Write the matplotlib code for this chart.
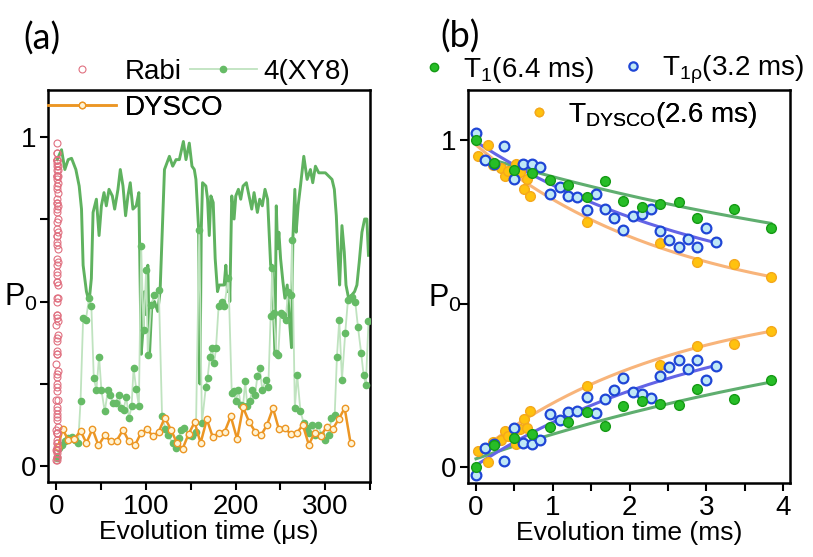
import numpy as np
import matplotlib
matplotlib.use('Agg')
import matplotlib.pyplot as plt
from matplotlib.lines import Line2D

plt.rcParams['font.family'] = ['Liberation Sans', 'DejaVu Sans']
plt.rcParams['mathtext.fontset'] = 'custom'
plt.rcParams['mathtext.rm'] = 'Liberation Sans'
plt.rcParams['mathtext.it'] = 'Liberation Sans:italic'

# ---------------- panel (a): coherence under different sequences ----------------
rabi_t = [0.00, 0.02, 0.03, 0.05, 0.07, 0.08, 0.10, 0.12, 0.13, 0.15,
          0.17, 0.18, 0.20, 0.22, 0.23, 0.25, 0.27, 0.28, 0.30, 0.32,
          0.33, 0.35, 0.37, 0.38, 0.40, 0.42, 0.43, 0.45, 0.47, 0.48,
          0.50, 0.52, 0.53, 0.55, 0.57, 0.58, 0.60, 0.62, 0.63, 0.65,
          0.67, 0.68, 0.70, 0.72, 0.73, 0.75, 0.77, 0.78, 0.80, 0.82,
          0.83, 0.85, 0.87, 0.88, 0.90, 0.92, 0.93, 0.95, 0.97, 0.98,
          1.00, 1.02, 1.03, 1.05, 1.07, 1.08, 1.10, 1.12, 1.13, 1.15,
          1.17, 1.18, 1.20, 1.22, 1.23, 1.25, 1.27, 1.28, 1.30, 1.32,
          1.33, 1.35, 1.37, 1.38, 1.40, 1.42, 1.43, 1.45, 1.47, 1.48]
rabi_p = [0.02, 0.05, 0.11, 0.20, 0.31, 0.43, 0.56, 0.68, 0.78, 0.87,
          0.93, 0.98, 0.95, 0.91, 0.84, 0.74, 0.63, 0.51, 0.39, 0.28,
          0.18, 0.10, 0.05, 0.02, 0.03, 0.07, 0.14, 0.23, 0.34, 0.46,
          0.59, 0.70, 0.80, 0.88, 0.93, 0.95, 0.93, 0.88, 0.80, 0.70,
          0.58, 0.46, 0.35, 0.24, 0.15, 0.08, 0.04, 0.03, 0.05, 0.10,
          0.17, 0.27, 0.38, 0.50, 0.61, 0.72, 0.81, 0.88, 0.92, 0.93,
          0.90, 0.85, 0.77, 0.67, 0.56, 0.45, 0.34, 0.25, 0.16, 0.10,
          0.06, 0.05, 0.07, 0.12, 0.20, 0.29, 0.40, 0.51, 0.62, 0.71,
          0.79, 0.86, 0.90, 0.91, 0.88, 0.83, 0.75, 0.66, 0.55, 0.44]

xy8_hi_t = [0.9, 5.7, 9.4, 13.1, 16.9, 21.7, 25.4, 28.0, 29.8, 31.7, 33.5, 36.5,
            39.0, 40.9, 44.6, 47.6, 50.2, 53.1, 55.7, 58.7, 62.4, 65.0, 68.7, 71.3,
            74.3, 77.2, 79.8, 82.4, 85.4, 89.1, 92.0, 94.6, 96.5, 98.3, 100.2, 102.0,
            103.9, 106.5, 109.4, 113.1, 115.7, 117.9, 120.6, 126.1, 129.8, 133.5, 137.2,
            141.7, 144.6, 148.3, 151.3, 153.9, 155.7, 158.7, 160.2, 161.7, 163.1, 166.8,
            168.7, 170.6, 172.4, 175.0, 177.2, 179.8, 181.7, 184.6, 187.2, 189.1, 190.9,
            192.8, 193.5, 195.7, 198.3, 200.2, 203.1, 205.7, 208.3, 212.0, 215.0, 218.0,
            220.6, 224.3, 226.9, 229.8, 232.8, 235.7, 239.1, 240.9, 243.9, 245.4, 246.9,
            248.3, 250.2, 252.8, 255.0, 257.6, 260.2, 262.4, 263.9, 266.1, 267.6, 269.8,
            272.4, 276.1, 279.8, 283.5, 286.1, 289.1, 292.8, 296.5, 300.2, 303.9, 307.6,
            310.2, 312.4, 314.3, 316.1, 318.7, 321.3, 323.2, 326.1, 329.8, 332.8, 335.4,
            338.0, 341.0, 344.0, 346.5, 348.3]
xy8_hi_p = [0.93, 0.96, 0.90, 0.93, 0.934, 0.90, 0.85, 0.78, 0.61, 0.57, 0.53, 0.50,
            0.57, 0.77, 0.81, 0.70, 0.79, 0.83, 0.79, 0.84, 0.82, 0.78, 0.84, 0.90,
            0.85, 0.76, 0.82, 0.86, 0.78, 0.79, 0.83, 0.34, 0.41, 0.53, 0.46, 0.61,
            0.34, 0.49, 0.50, 0.47, 0.53, 0.70, 0.90, 0.94, 0.91, 0.93, 0.93,
            0.985, 0.93, 0.98, 0.91, 0.90, 0.87, 0.72, 0.25, 0.72, 0.86, 0.85,
            0.81, 0.70, 0.82, 0.80, 0.63, 0.53, 0.55, 0.55, 0.55, 0.61, 0.53,
            0.57, 0.50, 0.82, 0.75, 0.82, 0.84, 0.81, 0.85, 0.86, 0.82, 0.78,
            0.83, 0.77, 0.81, 0.79, 0.84, 0.81, 0.61, 0.61, 0.34, 0.79, 0.66,
            0.71, 0.63, 0.56, 0.51, 0.55, 0.44, 0.36, 0.69, 0.84, 0.71, 0.79,
            0.85, 0.94, 0.87, 0.90, 0.86, 0.91, 0.89, 0.89, 0.89, 0.88, 0.87,
            0.84, 0.76, 0.64, 0.55, 0.73, 0.65, 0.55, 0.51, 0.52, 0.53, 0.55,
            0.62, 0.71, 0.75, 0.75, 0.64]

xy8_lo_t = [0.5, 3.1, 5.7, 9.4, 13.1, 16.9, 20.6, 24.3, 26.9, 29.8, 32.8, 36.5,
            39.0, 41.7, 44.6, 47.6, 50.2, 53.9, 57.6, 60.2, 63.1, 66.1, 69.4, 72.4,
            75.0, 77.9, 80.9, 83.9, 86.1, 89.1, 92.0, 94.6, 97.2, 100.2, 102.0, 105.7,
            109.4, 114.3, 117.9, 121.7, 124.3, 129.8, 133.5, 136.5, 139.1, 142.8, 147.6,
            151.3, 155.7, 159.4, 162.4, 166.8, 168.7, 171.3, 173.7, 176.1, 178.1, 181.0,
            184.6, 187.2, 192.0, 195.7, 198.0, 200.2, 203.1, 205.7, 208.3, 210.7, 213.1,
            215.7, 218.7, 221.7, 224.3, 226.9, 229.8, 233.5, 236.5, 239.1, 240.9, 242.6,
            245.4, 247.6, 250.2, 252.8, 255.7, 258.7, 261.3, 263.1, 266.1, 268.7, 272.4,
            276.1, 279.8, 282.4, 285.4, 289.1, 292.0, 295.7, 299.4, 303.9, 306.9, 310.6,
            313.1, 315.7, 318.7, 322.4, 325.4, 329.8, 333.5, 336.5, 340.2, 342.8, 345.4,
            348.3]
xy8_lo_p = [0.025, 0.056, 0.066, 0.076, 0.086, 0.089, 0.081, 0.071, 0.197, 0.449, 0.444, 0.510,
            0.485, 0.268, 0.232, 0.333, 0.232, 0.167, 0.232, 0.217, 0.192, 0.192, 0.217, 0.177,
            0.172, 0.212, 0.146, 0.182, 0.298, 0.234, 0.184, 0.667, 0.414, 0.596, 0.338, 0.490,
            0.520, 0.535, 0.152, 0.114, 0.096, 0.071, 0.056, 0.085, 0.111, 0.116, 0.096,
            0.091, 0.106, 0.717, 0.131, 0.242, 0.268, 0.333, 0.359, 0.313, 0.359, 0.485,
            0.500, 0.485, 0.571, 0.222, 0.228, 0.197, 0.232, 0.187, 0.182, 0.258, 0.182,
            0.197, 0.232, 0.217, 0.273, 0.298, 0.232, 0.263, 0.242, 0.455, 0.601, 0.465,
            0.343, 0.338, 0.465, 0.460, 0.444, 0.530, 0.520, 0.687, 0.177, 0.278, 0.167,
            0.131, 0.116, 0.101, 0.126, 0.096, 0.126, 0.096, 0.081, 0.096, 0.146, 0.157,
            0.333, 0.444, 0.263, 0.406, 0.505, 0.515, 0.500, 0.424, 0.343, 0.278, 0.247,
            0.440]

dysco_a_t = [2.0, 6.8, 13.2, 19.8, 26.9, 33.5, 40.2, 46.9, 53.9, 60.6, 67.2, 74.3,
             80.9, 87.6, 94.3, 101.0, 108.0, 114.3, 121.0, 127.9, 134.6, 140.9, 147.6,
             154.3, 160.9, 167.9, 174.6, 181.7, 187.9, 194.6, 201.7, 208.3, 215.0, 221.7,
             228.3, 235.0, 241.7, 248.3, 255.0, 261.7, 268.3, 275.0, 281.7, 288.3, 295.0,
             301.7, 308.3, 315.0, 321.7, 328.3]
dysco_a_p = [0.060, 0.113, 0.081, 0.083, 0.108, 0.071, 0.114, 0.064, 0.094, 0.076, 0.078, 0.111,
             0.076, 0.064, 0.101, 0.113, 0.091, 0.106, 0.148, 0.111, 0.071, 0.054, 0.099,
             0.134, 0.071, 0.143, 0.088, 0.103, 0.106, 0.152, 0.083, 0.179, 0.136, 0.106,
             0.094, 0.126, 0.177, 0.113, 0.116, 0.098, 0.101, 0.126, 0.066, 0.103, 0.091,
             0.121, 0.113, 0.143, 0.177, 0.071]

# ---------------- panel (b): relaxation measurements ----------------
t1_t = [0, 0.24, 0.49, 0.73, 0.97, 1.20, 1.44, 1.68, 1.92, 2.16, 2.40, 2.64, 2.88, 3.36, 3.84]
t1_hi = [1.0, 0.93, 0.908, 0.898, 0.878, 0.862, 0.827, 0.874, 0.814, 0.796, 0.804, 0.81, 0.76, 0.789, 0.732]
t1_lo = [0.0, 0.066, 0.09, 0.102, 0.122, 0.137, 0.169, 0.124, 0.185, 0.202, 0.194, 0.189, 0.239, 0.209, 0.265]

t1rho_t = [0, 0.12, 0.24, 0.37, 0.49, 0.61, 0.73, 0.84, 0.97, 1.09, 1.20, 1.32, 1.44, 1.56,
           1.68, 1.80, 1.92, 2.04, 2.16, 2.28, 2.40, 2.52, 2.64, 2.76, 2.88, 3.00, 3.12]
t1rho_hi = [1.023, 0.939, 0.926, 0.982, 0.880, 0.926, 0.926, 0.917, 0.835, 0.855, 0.829, 0.826, 0.785, 0.834,
            0.789, 0.763, 0.726, 0.768, 0.773, 0.789, 0.721, 0.694, 0.672, 0.697, 0.672, 0.731, 0.688]
t1rho_lo = [-0.026, 0.058, 0.071, 0.017, 0.119, 0.073, 0.071, 0.082, 0.163, 0.143, 0.168, 0.171, 0.213, 0.164,
            0.209, 0.236, 0.273, 0.230, 0.224, 0.211, 0.278, 0.306, 0.327, 0.301, 0.326, 0.267, 0.310]

dysco_t = [0.03, 0.15, 0.22, 0.33, 0.38, 0.42, 0.52, 0.57, 0.62, 0.67, 0.71, 1.44, 2.40, 2.88, 3.36, 3.84]
dysco_hi = [0.950, 0.985, 0.925, 0.913, 0.890, 0.905, 0.928, 0.903, 0.850, 0.882, 0.828, 0.748, 0.684, 0.628, 0.620, 0.582]
dysco_lo = [0.049, 0.015, 0.075, 0.082, 0.109, 0.095, 0.070, 0.117, 0.148, 0.118, 0.171, 0.248, 0.311, 0.369, 0.376, 0.415]

# fitted decay constants (ms) and (offset, amplitude) of each exponential fit
T1, T1RHO, TDYSCO = 6.4, 3.2, 2.6
fit_t1 = [(0.49, 0.465), (0.545, -0.52)]
fit_t1rho = [(0.499, 0.496), (0.495, -0.49)]
fit_dysco = [(0.463, 0.522), (0.526, -0.486)]

W, H = 813, 557
fig = plt.figure(figsize=(W / 100, H / 100), dpi=100)
ax_a = fig.add_axes([48 / W, 1 - 482 / H, 322 / W, 392 / H])
ax_b = fig.add_axes([468 / W, 1 - 483 / H, 322 / W, 393 / H])

c_dark = '#5fb25f'
c_light = '#bfe3bf'
c_dot = '#66bb66'
c_orange = '#ec9624'
c_red = '#e07080'

ax_a.plot(xy8_hi_t, xy8_hi_p, color=c_dark, lw=2.1, zorder=2)
ax_a.plot(xy8_lo_t, xy8_lo_p, color=c_light, lw=1.3, marker='o', ms=4.5,
          mfc=c_dot, mec=c_dot, zorder=3)
ax_a.plot(dysco_a_t, dysco_a_p, color=c_orange, lw=1.8, marker='o', ms=4.6,
          mfc='#fff4d6', mec=c_orange, mew=1.0, zorder=4)
ax_a.plot(rabi_t, rabi_p, ls='none', marker='o', ms=5, mfc='none', mec=c_red,
          mew=0.8, zorder=5)

ax_a.set_xlim(-9.4, 350)
ax_a.set_ylim(-0.047, 1.141)
ax_a.set_xticks([0, 100, 200, 300])
ax_a.set_xticks([50, 150, 250, 350], minor=True)
ax_a.set_yticks([0, 0.25, 0.5, 0.75, 1])
ax_a.set_yticklabels(['0', '', '', '', '1'])

# panel (b) fits and data
tt = np.linspace(0, 3.84, 200)
tt_rho = np.linspace(0, 3.12, 200)
c_g, c_gfit = '#27bd27', '#5fae6f'
c_b, c_bfit = '#1f46d6', '#6464e6'
c_o, c_ofit = '#ffc20e', '#f8b47a'
for off, amp in fit_t1:
    ax_b.plot(tt, off + amp * np.exp(-tt / T1), color=c_gfit, lw=2.2, zorder=2)
for off, amp in fit_t1rho:
    ax_b.plot(tt_rho, off + amp * np.exp(-tt_rho / T1RHO), color=c_bfit, lw=2.2, zorder=2)
for off, amp in fit_dysco:
    ax_b.plot(tt, off + amp * np.exp(-tt / TDYSCO), color=c_ofit, lw=2.2, zorder=2)

pt = dict(ls='none', marker='o', ms=7)
for ys in (dysco_hi, dysco_lo):
    ax_b.plot(dysco_t, ys, mfc=c_o, mec='#f4a81c', mew=1.0, zorder=3, **pt)
for ys in (t1rho_hi, t1rho_lo):
    ax_b.plot(t1rho_t, ys, mfc='#bfe8f6', mec=c_b, mew=1.6, zorder=4, **pt)
for ys in (t1_hi, t1_lo):
    ax_b.plot(t1_t, ys, mfc=c_g, mec='#159a15', mew=1.0, zorder=5, **pt)

ax_b.set_xlim(-0.104, 4.09)
ax_b.set_ylim(-0.049, 1.153)
ax_b.set_xticks([0, 1, 2, 3, 4])
ax_b.set_xticks([0.5, 1.5, 2.5, 3.5], minor=True)
ax_b.set_yticks([0, 0.5, 1])
ax_b.set_yticklabels(['0', '', '1'])

for ax, xlab in ((ax_a, 'Evolution time (μs)'), (ax_b, 'Evolution time (ms)')):
    for s in ax.spines.values():
        s.set_linewidth(1.8)
    ax.tick_params(which='both', direction='out', width=1.5, length=5.5)
    ax.tick_params(axis='x', which='both', pad=3)
    ax.tick_params(axis='y', which='both', pad=3)
    for lab in ax.get_xticklabels() + ax.get_yticklabels():
        lab.set_fontsize(20)
    ax.set_xlabel(xlab, fontsize=19, labelpad=0)
    ax.set_ylabel('P$_\\mathregular{0}$', fontsize=22, rotation=0, ha='center', va='center')

ax_a.yaxis.set_label_coords(-0.085, 0.47)
ax_b.yaxis.set_label_coords(-0.072, 0.47)


def add_key(ax, handle, label, x_px, y_px, hl, pad):
    leg = ax.legend([handle], [label], loc='center left',
                    bbox_to_anchor=(x_px / W, 1 - y_px / H), bbox_transform=fig.transFigure,
                    frameon=False, borderpad=0, borderaxespad=0,
                    handlelength=hl, handletextpad=pad, fontsize=20)
    ax.add_artist(leg)


add_key(ax_a, Line2D([], [], ls='none', marker='o', ms=5, mfc='none', mec=c_red, mew=0.8),
        'Rabi', 48, 72, 2.45, 0.32)
add_key(ax_a, Line2D([], [], color=c_light, lw=1.3, marker='o', ms=4.5, mfc=c_dot, mec=c_dot),
        '4(XY8)', 190, 72, 2.4, 0.25)
add_key(ax_a, Line2D([], [], color=c_orange, lw=1.8, marker='o', ms=4.6, mfc='#fff4d6',
                     mec=c_orange, mew=1.0),
        'DYSCO', 48, 108, 2.45, 0.32)

add_key(ax_b, Line2D([], [], ls='none', marker='o', ms=6, mfc=c_g, mec='#159a15'),
        'T$_\\mathregular{1}$(6.4 ms)', 417, 70, 1.2, 0.45)
add_key(ax_b, Line2D([], [], ls='none', marker='o', ms=6, mfc='#bfe8f6', mec=c_b, mew=1.6),
        'T$_\\mathregular{1ρ}$(3.2 ms)', 616, 70, 1.2, 0.45)
add_key(ax_b, Line2D([], [], ls='none', marker='o', ms=6, mfc=c_o, mec='#f4a81c'),
        'T$_\\mathregular{DYSCO}$(2.6 ms)', 522, 115, 1.2, 0.45)

panel_font = ['Lato', 'DejaVu Sans']
fig.text(42 / W, 1 - 39 / H, '(a)', fontsize=26, family=panel_font, ha='center', va='center')
fig.text(460 / W, 1 - 37 / H, '(b)', fontsize=26, family=panel_font, ha='center', va='center')

fig.savefig('out.png', dpi=100)
